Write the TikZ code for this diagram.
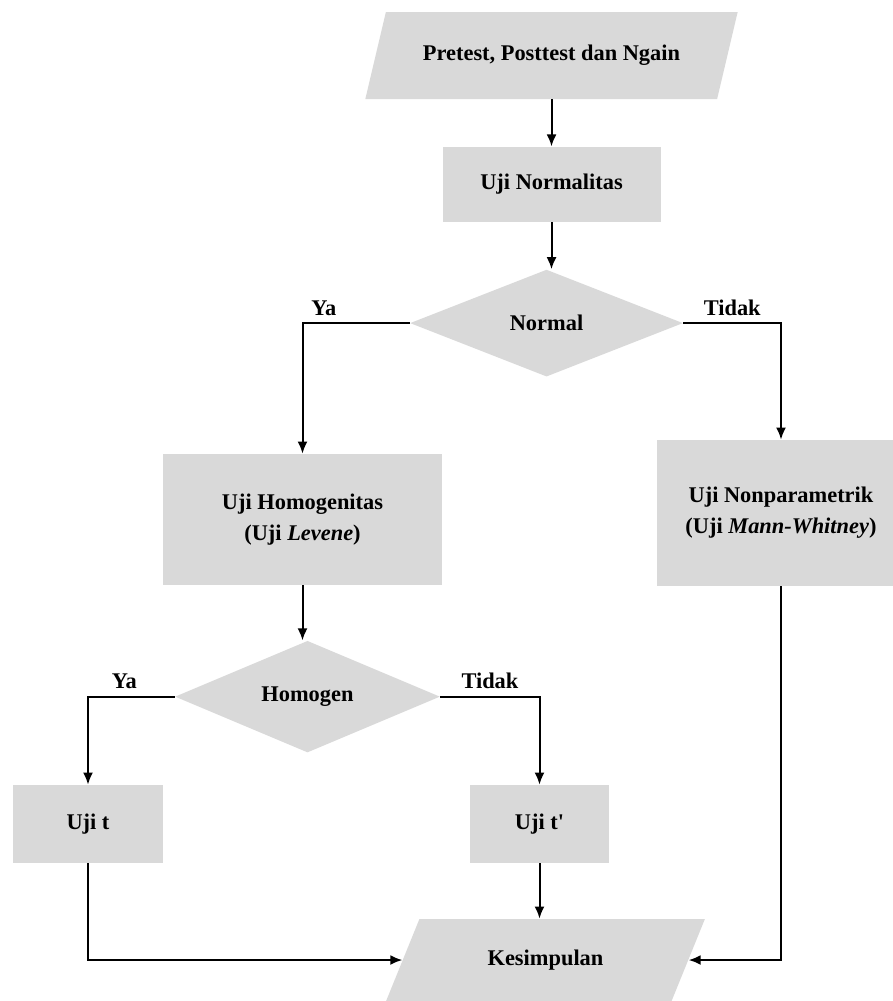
\documentclass[tikz,border=0pt]{standalone}
\usepackage{fontspec}
\setmainfont{Liberation Serif}[Ligatures=TeXOff]
\usepackage{xcolor}
\usepackage{tikz}
\usetikzlibrary{arrows.meta,positioning,shapes.geometric}
\definecolor{boxgray}{HTML}{D9D9D9}

\begin{document}
\begin{tikzpicture}[x=0.5pt,y=-0.5pt,
    font=\fontsize{11.2}{15.5}\selectfont\bfseries,
    flowbox/.style={rectangle,fill=boxgray,inner sep=2pt,align=center},
    iobox/.style={trapezium,trapezium left angle=60,trapezium right angle=120,
      trapezium stretches=true,fill=boxgray,inner sep=2pt,align=center},
    decide/.style={diamond,fill=boxgray,inner sep=0pt,align=center},
    arr/.style={-{Latex[length=6pt,width=5pt]},line width=1pt}]
    \useasboundingbox (0,0) rectangle (893,1001);
    \node[iobox,minimum width=186.5pt,minimum height=43.5pt] (data) at (551.5,55.5) {Pretest, Posttest dan Ngain};
    \node[flowbox,minimum width=109pt,minimum height=37.5pt,below=23.5pt of data] (norm) {Uji Normalitas};
    \node[decide,minimum width=136.5pt,minimum height=53.5pt,below=23.5pt of norm,xshift=-2.5pt] (normal) {Normal};
    \node[flowbox,minimum width=139.5pt,minimum height=65.5pt] (homog) at (302.5,519.5) {Uji Homogenitas\\(Uji \textit{Levene})};
    \node[flowbox,minimum width=124pt,minimum height=73pt] (nonpar) at (781,513) {Uji Nonparametrik\\(Uji \textit{Mann-Whitney})};
    \node[decide,minimum width=132.5pt,minimum height=51.5pt,below=27.5pt of homog,xshift=2.5pt] (homogen) {Homogen};
    \node[flowbox,minimum width=75pt,minimum height=39pt] (ujit) at (88,824) {Uji t};
    \node[flowbox,minimum width=69.5pt,minimum height=39pt] (ujitp) at (539.5,824) {Uji t'};
    \node[iobox,minimum width=160.5pt,minimum height=41pt] (kes) at (545.5,960) {Kesimpulan};
    \draw[arr] (data.south -| norm) -- (norm);
    \draw[arr] (norm) -- (norm |- normal.north);
    \draw[arr] (normal.west) -| node[pos=0.4,above]{Ya} (homog.north);
    \draw[arr] (normal.east) -| node[pos=0.25,above]{Tidak} (nonpar.north);
    \draw[arr] (homog) -- (homog |- homogen.north);
    \draw[arr] (homogen.west) -| node[pos=0.29,above]{Ya} (ujit.north);
    \draw[arr] (homogen.east) -| node[pos=0.25,above]{Tidak} (ujitp.north);
    \draw[arr] (ujit.south) |- (kes.west);
    \draw[arr] (ujitp.south) -- (ujitp.south |- kes.north);
    \draw[arr] (nonpar.south) |- (kes.east);
  \end{tikzpicture}
\end{document}
